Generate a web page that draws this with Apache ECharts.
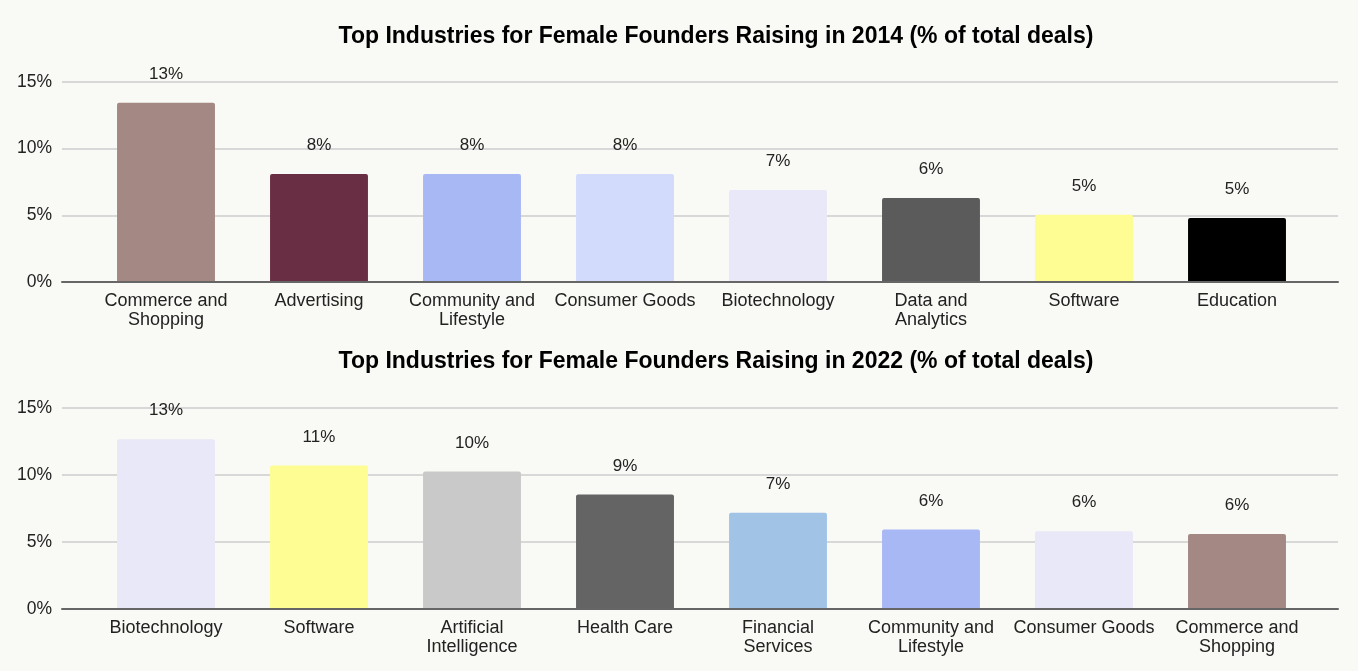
<!DOCTYPE html>
<html>
<head>
<meta charset="utf-8">
<script src="https://cdn.jsdelivr.net/npm/echarts@6/dist/echarts.min.js"></script>
<style>
html,body{margin:0;padding:0;background:#f9f9f5;}
#c{width:1358px;height:671px;}
</style>
</head>
<body>
<div id="c"></div>
<script>
const title2014 = 'Top Industries for Female Founders Raising in 2014 (% of total deals)';
const title2022 = 'Top Industries for Female Founders Raising in 2022 (% of total deals)';
const categories2014 = ['Commerce and\nShopping', 'Advertising', 'Community and\nLifestyle', 'Consumer Goods', 'Biotechnology', 'Data and\nAnalytics', 'Software', 'Education'];
const values2014 = [13.45, 8.1, 8.1, 8.1, 6.9, 6.3, 5.05, 4.8];
const colors2014 = ['#a38884', '#6a2e44', '#a8b8f5', '#d2dbfc', '#e8e8f8', '#5b5b5b', '#fdfd94', '#000000'];
const categories2022 = ['Biotechnology', 'Software', 'Artificial\nIntelligence', 'Health Care', 'Financial\nServices', 'Community and\nLifestyle', 'Consumer Goods', 'Commerce and\nShopping'];
const values2022 = [12.67, 10.7, 10.26, 8.55, 7.18, 5.94, 5.81, 5.59];
const colors2022 = ['#e8e8f8', '#fdfd94', '#c9c9c9', '#646464', '#a1c4e6', '#a8b8f5', '#e8e8f8', '#a38884'];
const yTicks = [0, 5, 10, 15];

const FONT = 'Liberation Sans, Arial, sans-serif';
const chart = echarts.init(document.getElementById('c'));

const tops = [82, 408];
const heights = [200, 201];
const grids = [];
const xAxes = [];
const yAxes = [];
const seriesList = [];

[[categories2014, values2014, colors2014], [categories2022, values2022, colors2022]].forEach(([cats, vals, cols], k) => {
  const outer = grids.length;
  grids.push({ left: 62, right: 20, top: tops[k], height: heights[k] });
  const inner = grids.length;
  grids.push({ left: 89.5, right: 44.5, top: tops[k], height: heights[k] });

  // outer: gridlines, y labels, axis line
  xAxes.push({
    type: 'category', gridIndex: outer, data: cats,
    axisLine: { lineStyle: { color: '#666', width: 2 } },
    axisTick: { show: false }, axisLabel: { show: false }, z: 4
  });
  yAxes.push({
    type: 'value', gridIndex: outer, min: yTicks[0], max: yTicks[yTicks.length - 1], interval: 5,
    axisLine: { show: false }, axisTick: { show: false },
    axisLabel: { color: '#222', fontSize: 17.5, fontFamily: FONT, margin: 10, formatter: v => v + '%' },
    splitLine: { lineStyle: { color: '#d8d8d8', width: 2 } }
  });
  // inner: bars + category labels
  xAxes.push({
    type: 'category', gridIndex: inner, data: cats,
    axisLine: { show: false }, axisTick: { show: false },
    axisLabel: { color: '#222', fontSize: 18, fontFamily: FONT, margin: 10, lineHeight: 19, interval: 0 }
  });
  yAxes.push({
    type: 'value', gridIndex: inner, min: yTicks[0], max: yTicks[yTicks.length - 1], interval: 5,
    show: false, splitLine: { show: false }
  });
  seriesList.push({
    type: 'bar', xAxisIndex: inner, yAxisIndex: inner, barWidth: '64%',
    data: vals.map((v, i) => ({ value: v, itemStyle: { color: cols[i] } })),
    itemStyle: { borderRadius: [2, 2, 0, 0] },
    label: { show: true, position: 'top', distance: 20, color: '#222', fontSize: 17, fontFamily: FONT,
      formatter: p => Math.round(p.value) + '%' },
    z: 3
  });
});

chart.setOption({
  backgroundColor: '#f9f9f5',
  animation: false,
  title: [
    { text: title2014, left: 711, top: 20, textAlign: 'center',
      textStyle: { fontSize: 23, fontWeight: 'bold', color: '#000', fontFamily: FONT } },
    { text: title2022, left: 711, top: 345, textAlign: 'center',
      textStyle: { fontSize: 23, fontWeight: 'bold', color: '#000', fontFamily: FONT } }
  ],
  grid: grids,
  xAxis: xAxes,
  yAxis: yAxes,
  series: seriesList
});
</script>
</body>
</html>
